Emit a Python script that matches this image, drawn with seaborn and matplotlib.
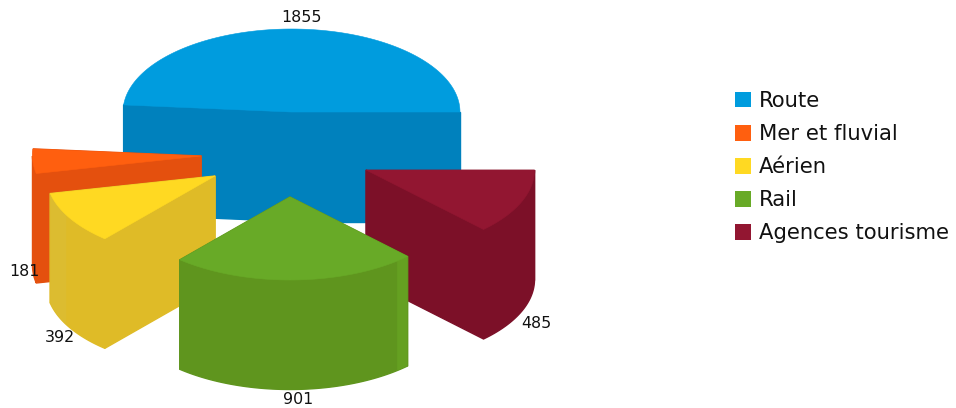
import numpy as np
import matplotlib
matplotlib.use("Agg")
import matplotlib.pyplot as plt
from matplotlib.patches import Patch
import seaborn as sns

categories = ["Route", "Mer et fluvial", "Aérien", "Rail", "Agences tourisme"]
values = [1855, 181, 392, 901, 485]

top_colors = ["#009CDE", "#FF5F0F", "#FFD922", "#68AA27", "#921631"]
side_colors = ["#0081BD", "#E4500E", "#DFBB27", "#5F951E", "#7C1028"]

# layout (pixels)
W, H = 956, 408
centre = (291.0, 153.0)
semi_x, semi_y, depth = 168.5, 83.0, 109.5
explode_dx = [0.5, -90.0, -76.0, -1.0, 75.0]
explode_dy = [-41.0, 3.0, 23.0, 44.0, 17.0]
label_xy = [(302, 17), (24, 272), (60, 338), (298, 399), (536, 324)]
draw_order = [0, 1, 2, 4, 3]
# slightly different shade on part of the rim: slice -> (from, to, colour)
rim_facets = {2: (192.0, 208.0, "#DCBC30"), 3: (309.5, 315.0, "#65A021")}

sns.set_theme(style="white")
plt.rcParams["font.family"] = ["DejaVu Sans"]

fig = plt.figure(figsize=(W / 100, H / 100), dpi=100)
ax = fig.add_axes([0, 0, 1, 1])
ax.set_xlim(0, W)
ax.set_ylim(H, 0)
ax.axis("off")

top_pal = sns.color_palette(top_colors)
side_pal = sns.color_palette(side_colors)

share = np.array(values, dtype=float) / np.sum(values) * 360.0
stops = np.concatenate([[0.0], np.cumsum(share)])


def rim(cx, cy, a0, a1):
    t = np.radians(np.linspace(a0, a1, 120))
    return cx + semi_x * np.cos(t), cy - semi_y * np.sin(t)


for order, i in enumerate(draw_order):
    a0, a1 = stops[i], stops[i + 1]
    cx, cy = centre[0] + explode_dx[i], centre[1] + explode_dy[i]
    zo = order * 4 + 1
    kw = dict(color=side_pal[i], lw=1.0, zorder=zo)
    # cut faces
    for a in (a0, a1):
        px, py = rim(cx, cy, a, a)
        ax.fill([cx, px[0], px[0], cx], [cy, py[0], py[0] + depth, cy + depth], **kw)
    # outer rim, front part only
    f0, f1 = max(a0, 180.0), min(a1, 360.0)
    if f1 > f0:
        rx, ry = rim(cx, cy, f0, f1)
        ax.fill(np.r_[rx, rx[::-1]], np.r_[ry, ry[::-1] + depth], **kw)
    if i in rim_facets:
        g0, g1, c = rim_facets[i]
        g0, g1 = max(g0, a0), min(g1, a1)
        rx, ry = rim(cx, cy, g0, g1)
        ax.fill(np.r_[rx, rx[::-1]], np.r_[ry, ry[::-1] + depth], color=c, lw=0, zorder=zo + 1)
    # top face
    tx, ty = rim(cx, cy, a0, a1)
    ax.fill(np.r_[cx, tx], np.r_[cy, ty], color=top_pal[i], lw=0.4, zorder=zo + 2)

for v, (x, y) in zip(values, label_xy):
    ax.text(x, y, str(v), ha="center", va="center", fontsize=11.4, color="#111111", zorder=40)

fs = 15.2
handles = [Patch(facecolor=c, edgecolor="none") for c in top_pal]
leg = ax.legend(
    handles, categories,
    loc="upper left",
    bbox_to_anchor=(735 / W, 1 - 91 / H),
    frameon=False,
    fontsize=fs,
    handlelength=11.5 / fs,
    handleheight=11.5 / fs,
    handletextpad=0.38,
    labelspacing=0.62,
    borderpad=0,
    borderaxespad=0,
)
for t in leg.get_texts():
    t.set_color("#111111")

fig.savefig("out.png", dpi=100)
